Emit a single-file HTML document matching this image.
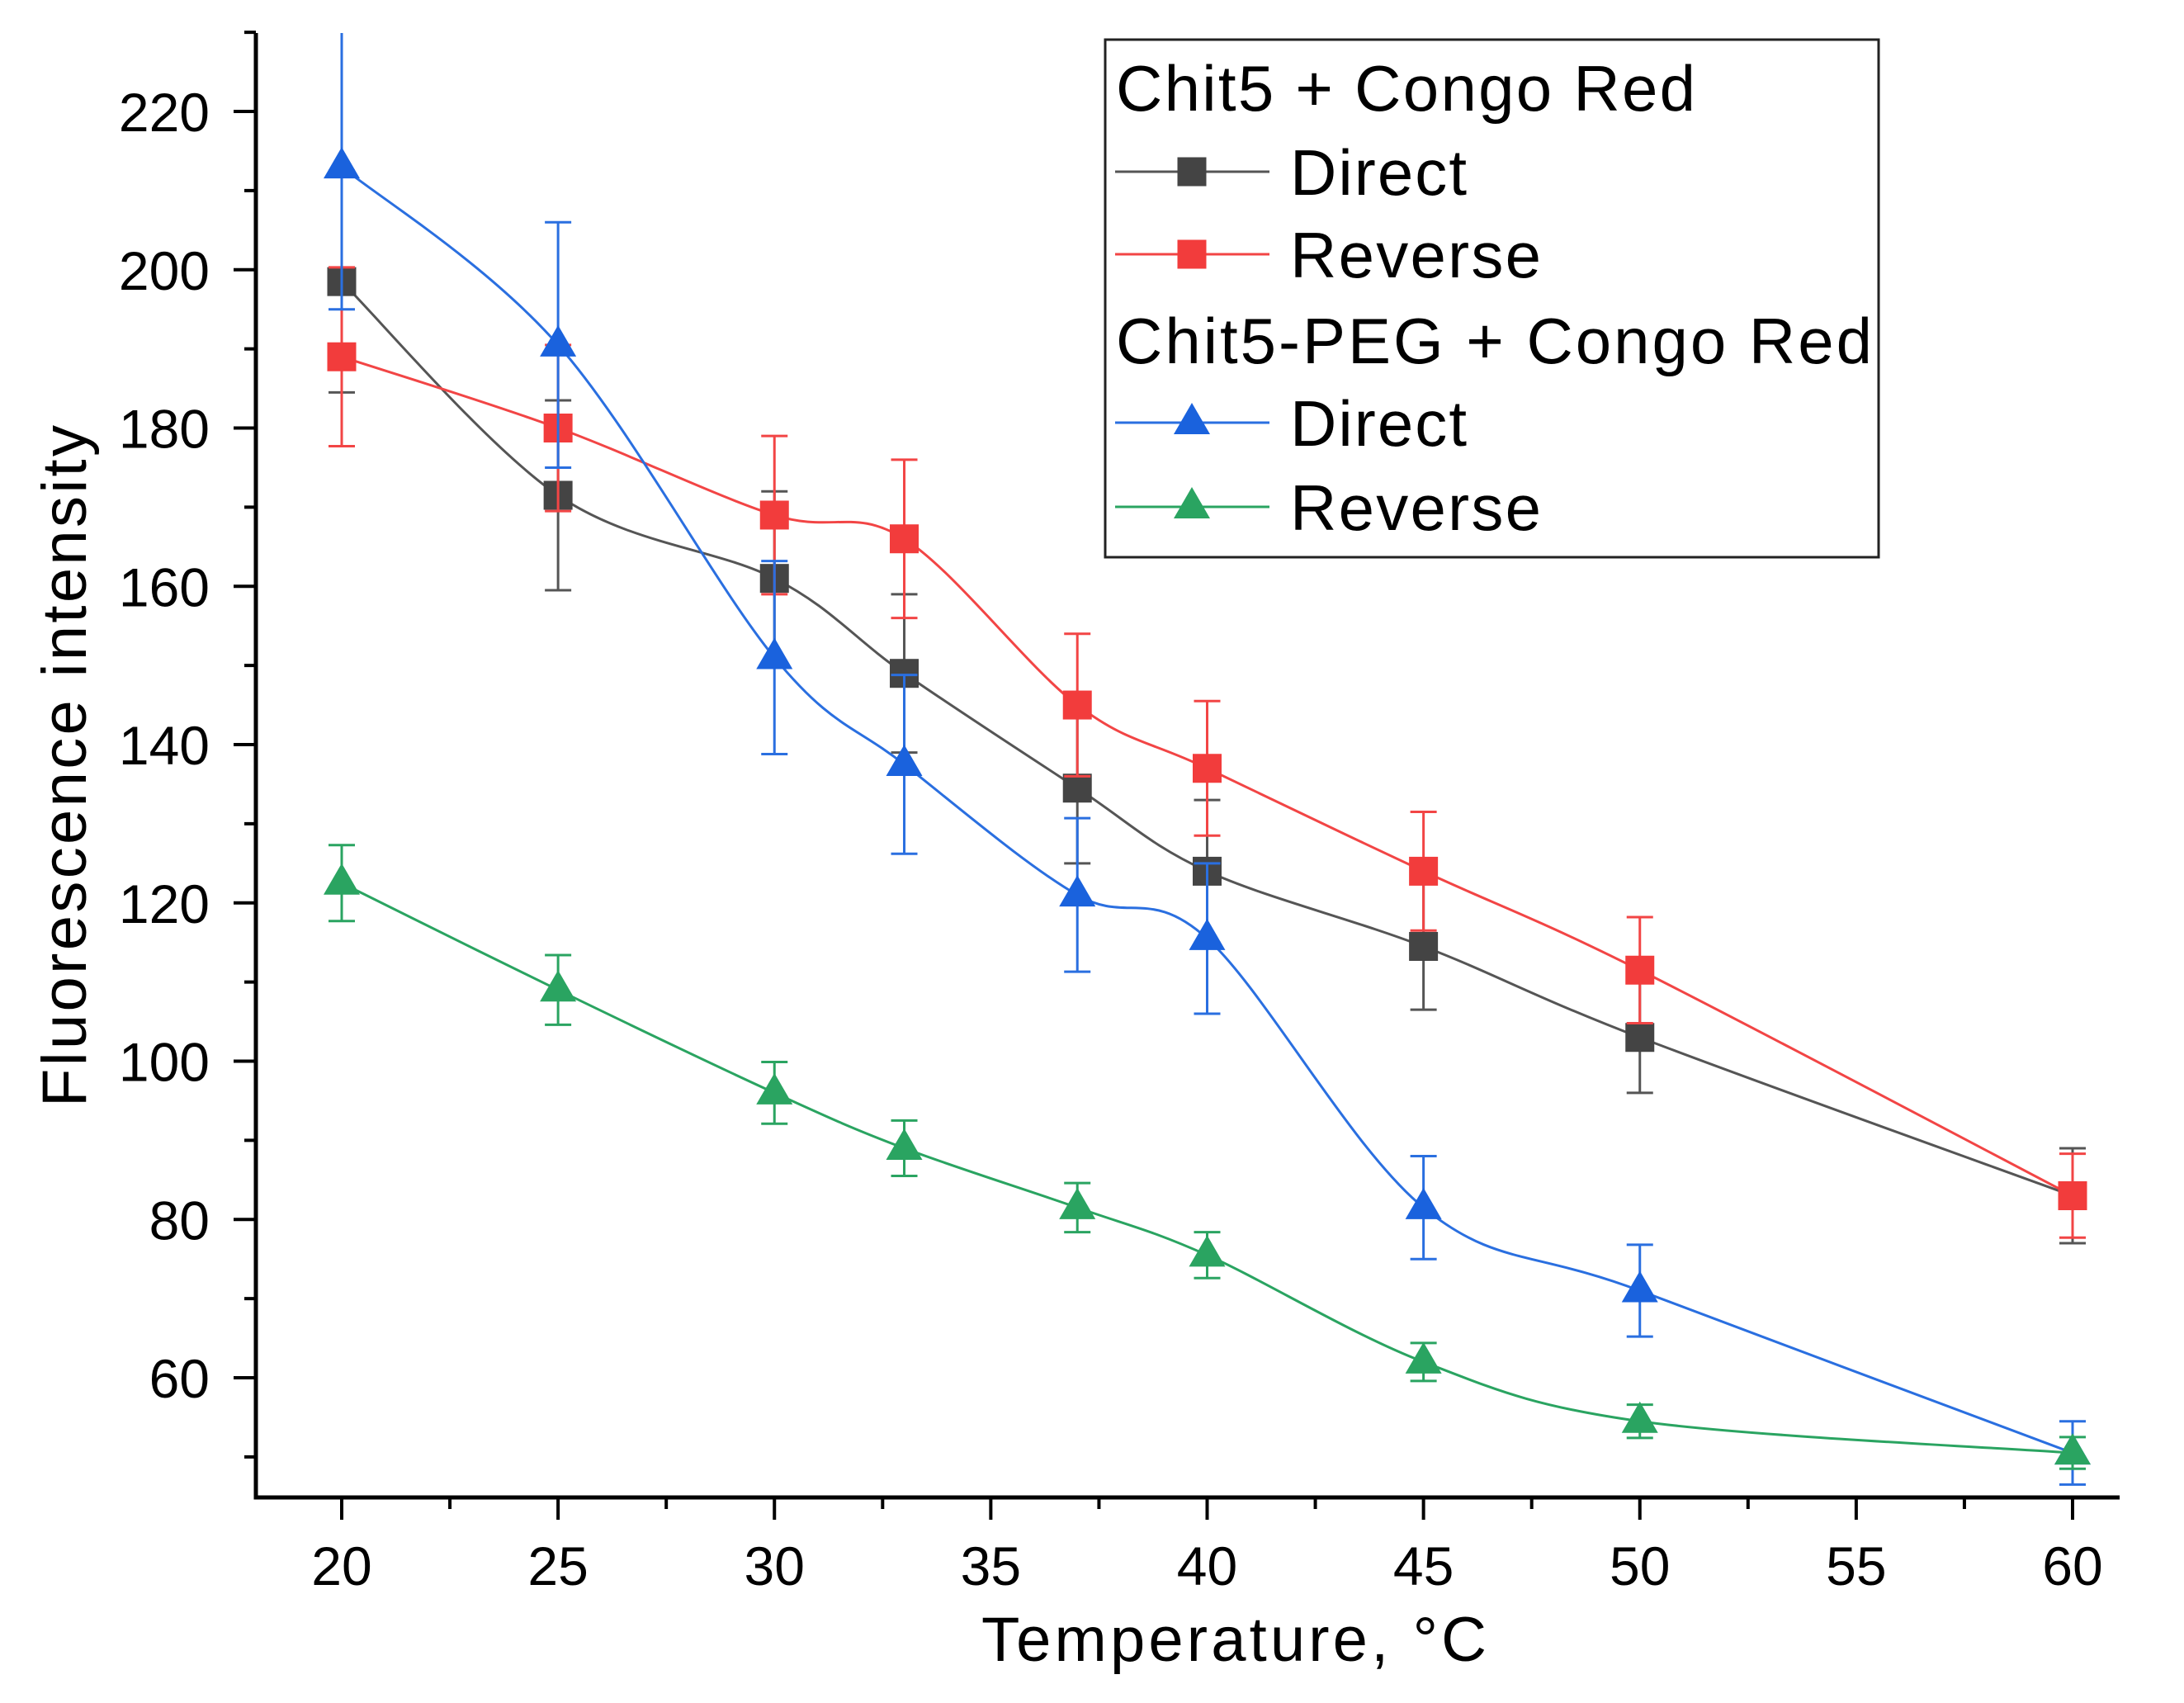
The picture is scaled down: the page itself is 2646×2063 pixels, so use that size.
<!DOCTYPE html>
<html><head><meta charset="utf-8"><style>
html,body{margin:0;padding:0;background:#fff}
svg{display:block}
text{font-family:"Liberation Sans",Arial,sans-serif;fill:#000}
</style></head><body>
<svg id="chart" width="2646" height="2063" viewBox="0 0 2646 2063" xmlns="http://www.w3.org/2000/svg">
<rect width="2646" height="2063" fill="#fff"/>
<g id="plot"></g>
<g id="axes"></g>
<g id="legend"></g>
</svg>
<script>
const temps = [20, 25, 30, 33, 37, 40, 45, 50, 60];
const chit5Direct = [198.5, 171.5, 161, 149, 134.5, 124, 114.5, 103, 83];
const chit5DirectErr = [14, 12, 11, 10, 9.5, 9, 8, 7, 6];
const chit5Reverse = [189, 180, 169, 166, 145, 137, 124, 111.5, 83];
const chit5ReverseErr = [11.3, 10.5, 10, 10, 9, 8.5, 7.5, 6.7, 5.3];
const pegDirect = [213, 190.5, 151, 137.5, 121, 115.5, 81.5, 71, 50.5];
const pegDirectErr = [18, 15.5, 12.2, 11.3, 9.7, 9.5, 6.5, 5.8, 4];
const pegReverse = [122.5, 109, 96, 89, 81.5, 75.5, 62, 54.5, 50.5];
const pegReverseErr = [4.8, 4.4, 3.9, 3.5, 3.1, 2.9, 2.4, 2.1, 2];
const xTicks = [20, 25, 30, 35, 40, 45, 50, 55, 60];
const yTicks = [60, 80, 100, 120, 140, 160, 180, 200, 220];

const NS = "http://www.w3.org/2000/svg";
const X0 = 310, X1 = 2568, Y0 = 1814, Y1 = 40;
function xs(v){ return 414 + (v - 20) * (2511 - 414) / 40; }
function ys(v){ return 1669 - (v - 60) * 9.5875; }
function el(tag, attrs, parent){
  const e = document.createElementNS(NS, tag);
  for (const k in attrs) e.setAttribute(k, attrs[k]);
  parent.appendChild(e); return e;
}
const plot = document.getElementById('plot');
const axes = document.getElementById('axes');
const legend = document.getElementById('legend');

el('clipPath', {id:'clip'}, plot).appendChild((()=>{const r=document.createElementNS(NS,'rect');r.setAttribute('x',X0);r.setAttribute('y',Y1);r.setAttribute('width',X1-X0);r.setAttribute('height',Y0-Y1);return r;})());

function smoothPath(pts){
  let d = `M${pts[0][0]},${pts[0][1]}`;
  for (let i = 0; i < pts.length - 1; i++){
    const p0 = pts[i-1] || pts[i], p1 = pts[i], p2 = pts[i+1], p3 = pts[i+2] || p2;
    const c1 = [p1[0] + (p2[0]-p0[0])/6, p1[1] + (p2[1]-p0[1])/6];
    const c2 = [p2[0] - (p3[0]-p1[0])/6, p2[1] - (p3[1]-p1[1])/6];
    d += ` C${c1[0]},${c1[1]} ${c2[0]},${c2[1]} ${p2[0]},${p2[1]}`;
  }
  return d;
}

const series = [
  {name:'chit5-direct', vals:chit5Direct, err:chit5DirectErr, color:'#444444', line:'#555', shape:'sq'},
  {name:'chit5-reverse', vals:chit5Reverse, err:chit5ReverseErr, color:'#f23c3c', line:'#f24545', shape:'sq'},
  {name:'peg-direct', vals:pegDirect, err:pegDirectErr, color:'#1a62dd', line:'#2a6fe0', shape:'tri'},
  {name:'peg-reverse', vals:pegReverse, err:pegReverseErr, color:'#2aa461', line:'#2aa461', shape:'tri'}
];

function marker(shape, cx, cy, color, parent){
  if (shape === 'sq') return el('rect', {x:cx-17.5, y:cy-17.5, width:35, height:35, fill:color}, parent);
  return el('polygon', {points:`${cx},${cy-24} ${cx-22},${cy+14} ${cx+22},${cy+14}`, fill:color}, parent);
}

series.forEach(s => {
  const g = el('g', {'clip-path':'url(#clip)'}, plot);
  
  
  const pts = temps.map((t,i) => [xs(t), ys(s.vals[i])]);
  const path = el('path', {d:smoothPath(pts), fill:'none', stroke:s.line, 'stroke-width':3}, g);
  
  
  temps.forEach((t,i) => {
    const x = xs(t), yt = ys(s.vals[i] + s.err[i]), yb = ys(s.vals[i] - s.err[i]);
    const eb = el('path', {d:`M${x},${yt}V${yb}M${x-16},${yt}H${x+16}M${x-16},${yb}H${x+16}`, stroke:s.line, 'stroke-width':3, fill:'none'}, g);
    
    
  });
  temps.forEach((t,i) => {
    const m = marker(s.shape, xs(t), ys(s.vals[i]), s.color, g);
    
    
  });
});

// axes
el('path', {d:`M${X0},${Y1}V${Y0}H${X1}`, stroke:'#000', 'stroke-width':5, fill:'none'}, axes);
xTicks.forEach(t => {
  const x = xs(t);
  el('line', {x1:x, y1:Y0, x2:x, y2:Y0+27, stroke:'#000', 'stroke-width':4}, axes);
  const tx = el('text', {x:x, y:1920, 'font-size':66, 'text-anchor':'middle'}, axes);
  tx.textContent = t;
  
  
});
for (let v = 17.5; v <= 61; v += 5){
  const x = xs(v); if (x <= X0) continue;
  el('line', {x1:x, y1:Y0, x2:x, y2:Y0+14, stroke:'#000', 'stroke-width':4}, axes);
}
yTicks.forEach(t => {
  const y = ys(t);
  el('line', {x1:X0-27, y1:y, x2:X0, y2:y, stroke:'#000', 'stroke-width':4}, axes);
  const tx = el('text', {x:254, y:y+24, 'font-size':66, 'text-anchor':'end'}, axes);
  tx.textContent = t;
  
  
});
for (let v = 50; v <= 230; v += 20){
  const y = ys(v);
  el('line', {x1:X0-14, y1:y, x2:X0, y2:y, stroke:'#000', 'stroke-width':4}, axes);
}
const xt = el('text', {x:1495, y:2012, 'font-size':76, 'text-anchor':'middle', textLength:612}, axes);
xt.textContent = 'Temperature, °C';


const yt = el('text', {x:0, y:0, 'font-size':76, 'text-anchor':'middle', transform:'translate(104,928) rotate(-90)', textLength:826}, axes);
yt.textContent = 'Fluorescence intensity';



// legend
const lb = el('rect', {x:1339, y:48, width:937, height:627, fill:'#fff', stroke:'#222', 'stroke-width':3}, legend);


const legRows = [
  {type:'title', text:'Chit5 + Congo Red', y:134, len:702},
  {type:'entry', s:0, text:'Direct', y:236, len:214},
  {type:'entry', s:1, text:'Reverse', y:336, len:304},
  {type:'title', text:'Chit5-PEG + Congo Red', y:440, len:916},
  {type:'entry', s:2, text:'Direct', y:540, len:214},
  {type:'entry', s:3, text:'Reverse', y:642, len:304}
];
legRows.forEach(r => {
  if (r.type === 'title'){
    const t = el('text', {x:1352, y:r.y, 'font-size':78, textLength:r.len}, legend);
    t.textContent = r.text;
    
    
  } else {
    const s = series[r.s];
    const g = el('g', {}, legend);
    
    
    const cy = r.y - 28;
    el('line', {x1:1351, y1:cy, x2:1538, y2:cy, stroke:s.line, 'stroke-width':3}, g);
    marker(s.shape, 1444, cy, s.color, g);
    const t = el('text', {x:1563, y:r.y, 'font-size':78, textLength:r.len}, g);
    t.textContent = r.text;
  }
});
</script>
</body></html>
